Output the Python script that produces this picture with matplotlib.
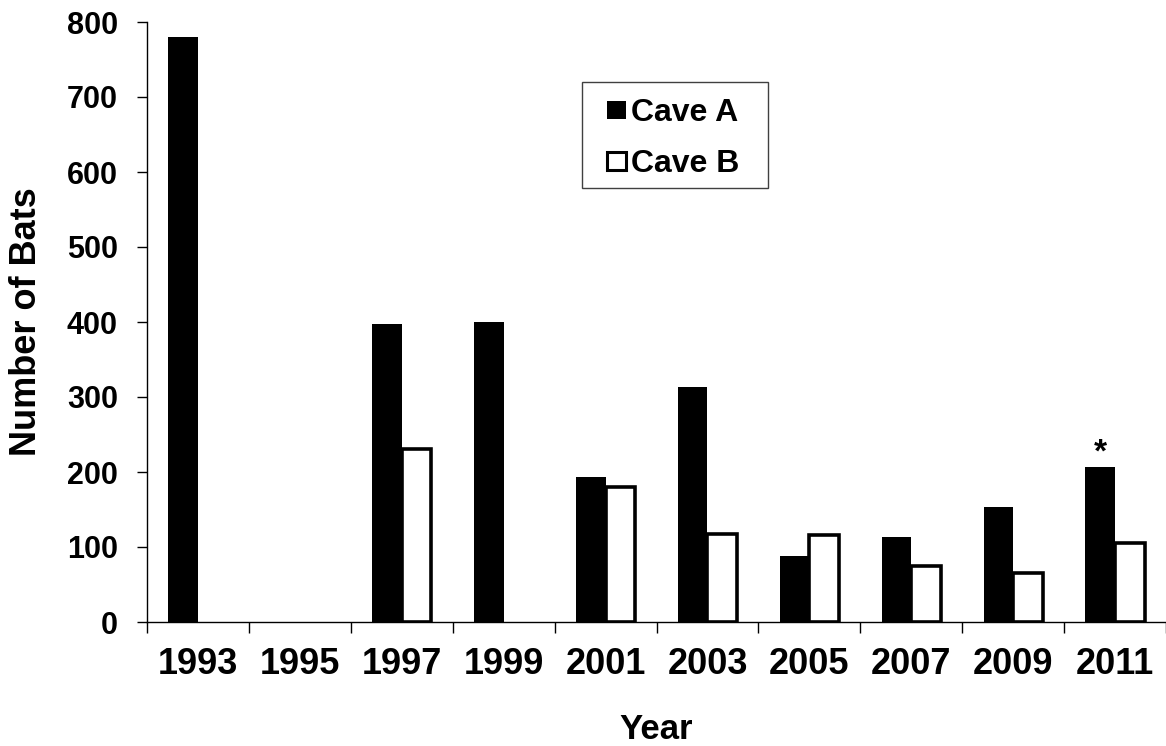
#!/usr/bin/env python
# -*- coding: utf-8 -*-
"""
# Bat counts per survey year in two caves

Bar chart of the number of bats counted in Cave A and Cave B.
"""

import numpy as np
import matplotlib
matplotlib.use('Agg')
import matplotlib.pyplot as plt
from matplotlib.patches import Patch, Rectangle

# =============================================================================
# Define variables
# =============================================================================
years = ['1993', '1995', '1997', '1999', '2001', '2003', '2005', '2007',
         '2009', '2011']
# nan = no survey for that cave in that year
cave_a = [780, np.nan, 398, 400, 194, 314, 88, 114, 154, 207]
cave_b = [np.nan, np.nan, 231, np.nan, 180, 117, 116, 75, 65, 106]
series_names = ['Cave A', 'Cave B']
star_year = '2011'

yticks = [0, 100, 200, 300, 400, 500, 600, 700, 800]

# -----------------------------------------------------------------------------
plt.rcParams['font.family'] = ['Liberation Sans', 'DejaVu Sans']
plt.rcParams['font.weight'] = 'bold'

W, H = 1166, 746
BAR_W = 0.29


# =============================================================================
# Define functions
# =============================================================================
def draw_bars(frame, xpos, values, **kwargs):
    values = np.asarray(values, dtype=float)
    mask = np.isfinite(values)
    return frame.bar(xpos[mask], values[mask], width=BAR_W, **kwargs)


# =============================================================================
# Start of code
# =============================================================================
if __name__ == "__main__":
    fig = plt.figure(figsize=(W / 100, H / 100), dpi=100)
    left, bottom, top = 147, 622, 22
    frame = fig.add_axes([left / W, 1 - bottom / H, (W - left) / W,
                          (bottom - top) / H])

    x = np.arange(len(years))
    draw_bars(frame, x - BAR_W / 2, cave_a, color='black', linewidth=0)
    draw_bars(frame, x + BAR_W / 2, cave_b, facecolor='white',
              edgecolor='black', linewidth=2.6)

    # asterisk over the last Cave A bar
    si = years.index(star_year)
    frame.annotate('*', (si - BAR_W / 2, cave_a[si]), xytext=(0, 4),
                   textcoords='offset points', ha='center', va='baseline',
                   fontsize=24, fontweight='bold')

    # axes
    cat_w = 1019 / 102.3
    frame.set_xlim(-0.5, -0.5 + cat_w)
    frame.set_ylim(0, 800)
    frame.set_yticks(yticks)
    frame.set_xticks(np.arange(len(years) + 1) - 0.5)
    frame.set_xticklabels([])
    frame.set_xticks(x, labels=years, minor=True)
    frame.tick_params(axis='x', which='major', direction='out', length=8,
                      width=1)
    frame.tick_params(axis='x', which='minor', length=0, pad=18,
                      labelsize=26)
    frame.tick_params(axis='y', direction='out', length=7, width=1,
                      pad=14, labelsize=22)
    for sp in ['top', 'right']:
        frame.spines[sp].set_visible(False)
    for sp in ['left', 'bottom']:
        frame.spines[sp].set_linewidth(1)

    frame.set_xlabel('Year', fontsize=25, fontweight='bold', labelpad=22)
    frame.set_ylabel('Number of Bats', fontsize=26, fontweight='bold',
                     labelpad=16)

    # legend: box drawn by hand, entries placed inside it
    frame.add_patch(Rectangle((582 / W, 1 - 188 / H), 186 / W, 106 / H,
                              transform=fig.transFigure, facecolor='white',
                              edgecolor='#404040', linewidth=1, zorder=4,
                              clip_on=False))
    handles = [Patch(facecolor='black', edgecolor='black', linewidth=0),
               Patch(facecolor='white', edgecolor='black', linewidth=2.2)]
    leg = frame.legend(handles, series_names, loc='upper left',
                       bbox_to_anchor=(607 / W, 1 - 98 / H),
                       bbox_transform=fig.transFigure, borderaxespad=0,
                       frameon=False, borderpad=0,
                       prop={'size': 23, 'weight': 'bold'},
                       handlelength=0.6, handleheight=0.48,
                       handletextpad=0.15, labelspacing=0.66)
    leg.set_zorder(6)

    fig.savefig('out.png', dpi=100)
    plt.close()

# =============================================================================
# End of code
# =============================================================================
